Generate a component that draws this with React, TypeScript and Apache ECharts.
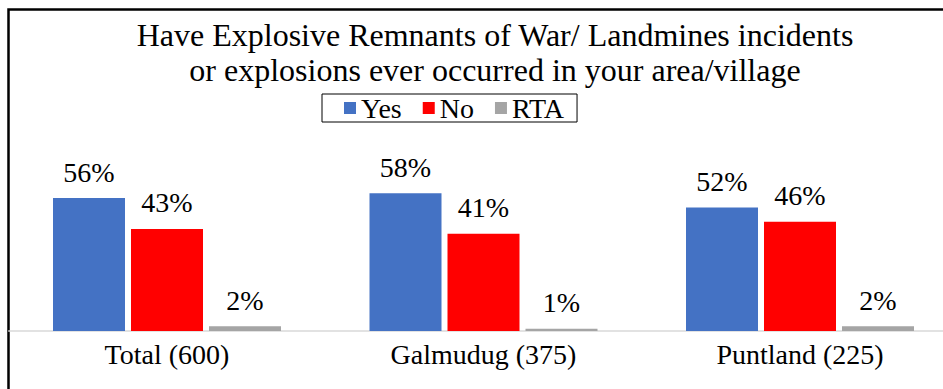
import React, { useEffect, useRef } from "react";
import * as echarts from "echarts";

const categories = ["Total (600)", "Galmudug (375)", "Puntland (225)"];
const yesValues = [56, 58, 52];
const noValues = [43, 41, 46];
const rtaValues = [2, 1, 2];
const seriesNames = ["Yes", "No", "RTA"];
const titleText =
  "Have Explosive Remnants of War/ Landmines incidents\nor explosions ever occurred in your area/village";

const FONT = "Liberation Serif";

export default function App() {
  const ref = useRef<HTMLDivElement>(null);

  useEffect(() => {
    if (!ref.current) return;
    const chart = echarts.init(ref.current, undefined, { renderer: "svg" });
    const mk = (name: string, data: number[], color: string) => ({
      name,
      type: "bar",
      data,
      barWidth: 72,
      barGap: "8.33%",
      itemStyle: { color },
      label: {
        show: true,
        position: "top",
        distance: 12,
        formatter: "{c}%",
        fontFamily: FONT,
        fontSize: 28,
        color: "#000",
      },
    });
    chart.setOption({
      animation: false,
      backgroundColor: "#fff",
      title: {
        text: titleText,
        left: 490,
        textAlign: "center",
        top: 12,
        textStyle: {
          fontFamily: FONT,
          fontSize: 32,
          fontWeight: "normal",
          color: "#000",
          lineHeight: 35,
        },
      },
      legend: {
        data: seriesNames,
        left: 322,
        top: 94,
        padding: [0, 13, 0, 22],
        borderColor: "#000",
        borderWidth: 1,
        itemWidth: 12,
        itemHeight: 12,
        itemGap: 21,
        icon: "rect",
        textStyle: { fontFamily: FONT, fontSize: 28, color: "#000" },
      },
      grid: { left: 8.75, width: 949.5, top: 93.5, height: 237.5, containLabel: false },
      xAxis: {
        type: "category",
        data: categories,
        axisLine: { show: true, lineStyle: { color: "#D9D9D9", width: 1.5 } },
        axisTick: { show: false },
        axisLabel: { fontFamily: FONT, fontSize: 28, color: "#000", margin: 9 },
      },
      yAxis: { type: "value", min: 0, max: 100, show: false, splitLine: { show: false } },
      series: [
        mk(seriesNames[0], yesValues, "#4472C4"),
        mk(seriesNames[1], noValues, "#FF0000"),
        mk(seriesNames[2], rtaValues, "#A5A5A5"),
      ],
      graphic: [
        {
          type: "rect",
          shape: { x: 8.5, y: 9.5, width: 1000, height: 500 },
          style: { fill: "none", stroke: "#000", lineWidth: 2.5 },
          silent: true,
        },
      ],
    });
    return () => chart.dispose();
  }, []);

  return (
    <div
      ref={ref}
      style={{ position: "fixed", left: 0, top: 0, width: 980, height: 389, background: "#fff" }}
    />
  );
}
